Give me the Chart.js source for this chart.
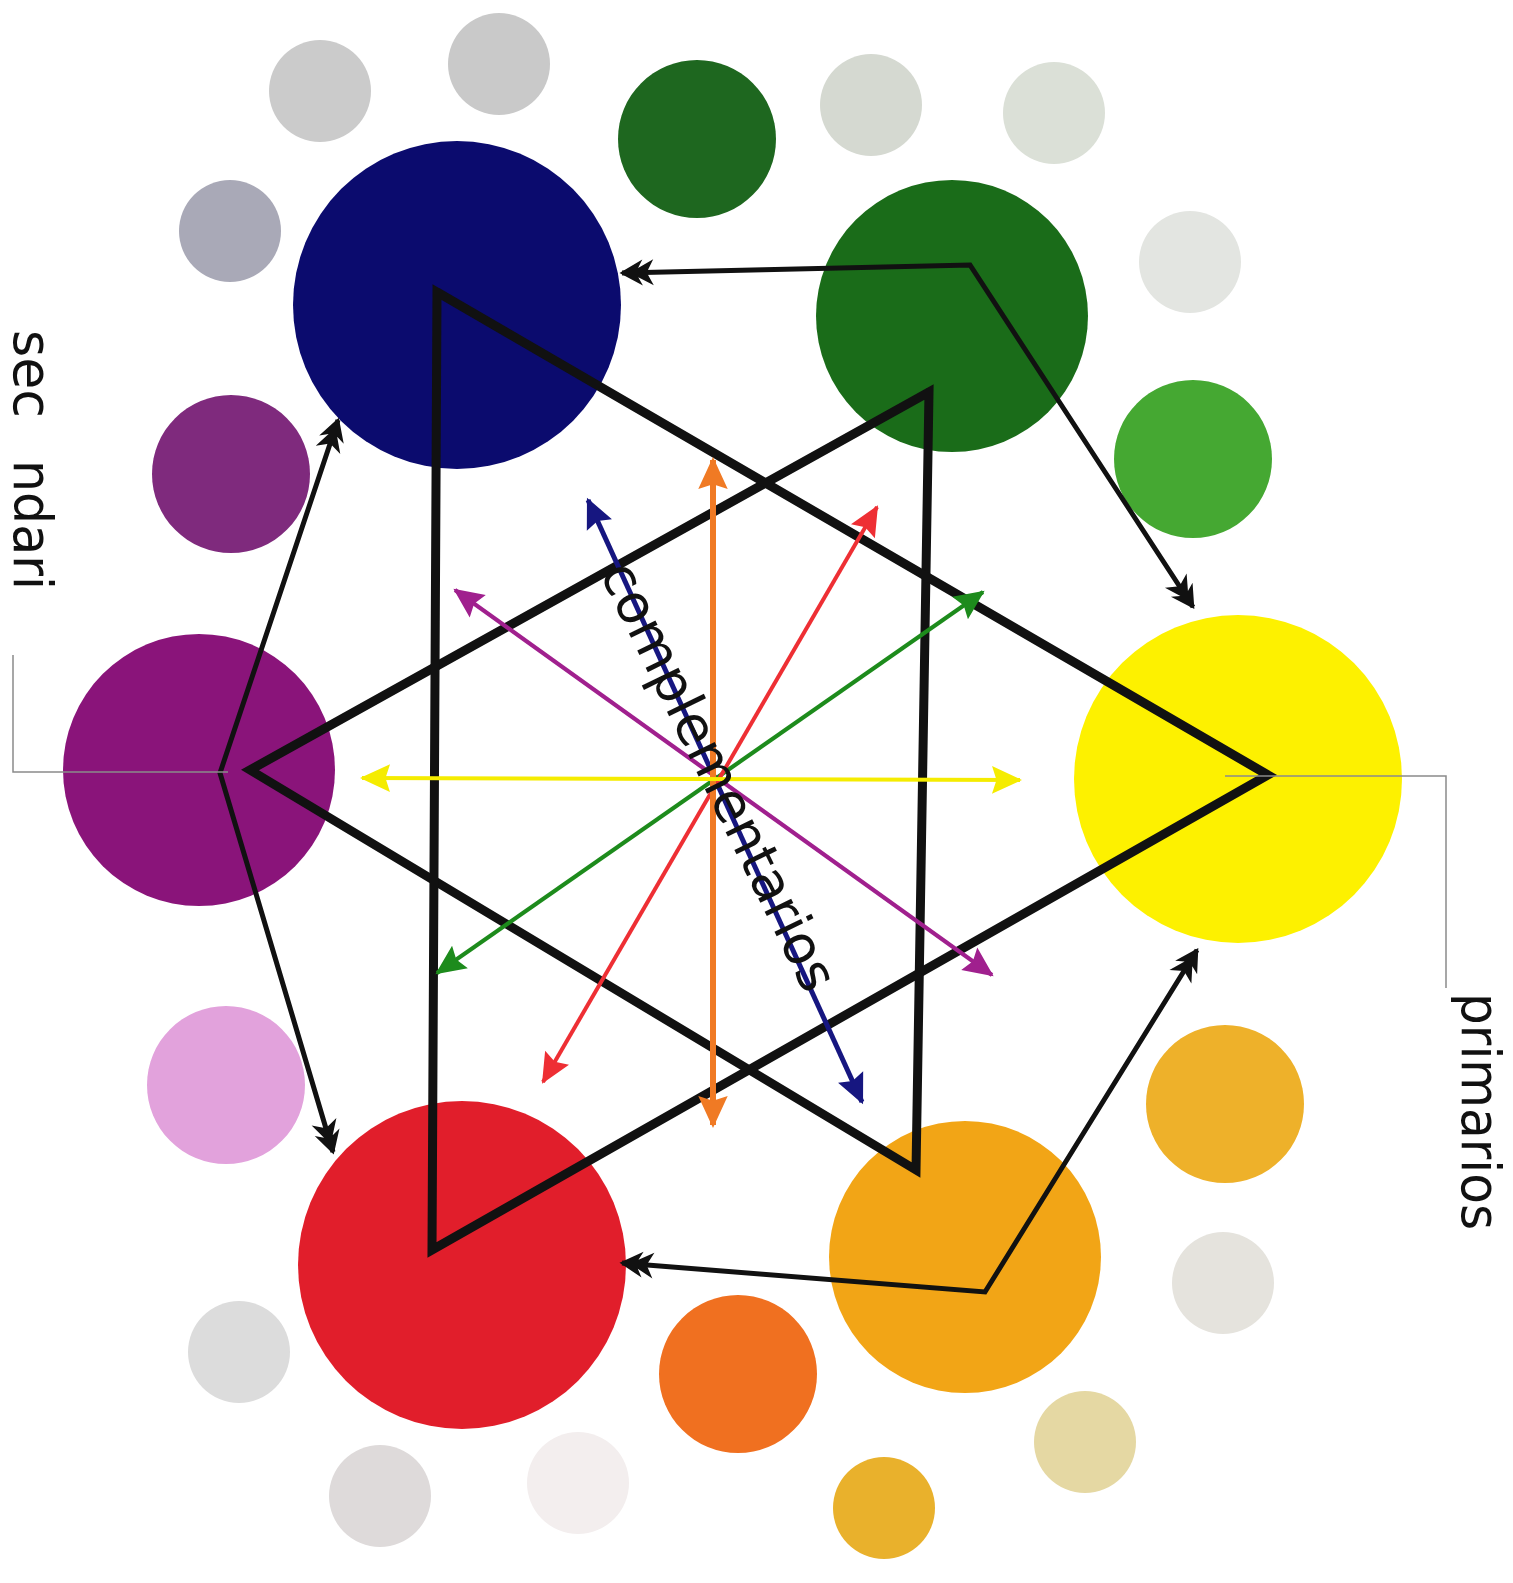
<!DOCTYPE html>
<html>
<head>
<meta charset="utf-8">
<script src="https://cdn.jsdelivr.net/npm/chart.js@4/dist/chart.umd.min.js"></script>
<style>
html, body { margin: 0; padding: 0; background: #fff; }
</style>
</head>
<body>
<canvas id="wheel" width="1513" height="1583"></canvas>
<script>
// circle centres (x, y)
var primX = [457, 1238, 462];
var primY = [305, 779, 1265];
var secX = [952, 965, 199];
var secY = [316, 1257, 770];
var terX = [697, 1193, 1225, 738, 226, 231];
var terY = [139, 459, 1104, 1374, 1085, 474];
var tintX = [320, 499, 230, 871, 1054, 1190, 1223, 1085, 884, 578, 380, 239];
var tintY = [91, 64, 231, 105, 113, 262, 1283, 1442, 1508, 1483, 1496, 1352];

// radius per ring
var primR = 164, secR = 136, terR = 79, tintR = 51;

var primColors = ['#0b0b6e', '#fdf100', '#e11e2b'];
var secColors = ['#1a6c19', '#f2a516', '#8a147a'];
var terColors = ['#1e671f', '#45a832', '#eeb12a', '#f07020', '#e2a2dc', '#7f2a7d'];
var tintColors = ['#cbcbcb', '#c9c9c9', '#a9a9b7', '#d5d9d1', '#dbe0d7', '#e3e5e1',
                  '#e5e3dd', '#e5d8a3', '#e9b12c', '#f3eeee', '#dedada', '#dcdcdc'];

// black triangles (closed, second point repeated so the join is mitered)
var triangleA = [[437, 292], [1268, 775], [432, 1250], [437, 292], [1268, 775]];
var triangleB = [[250, 770], [929, 392], [916, 1170], [250, 770], [929, 392]];

// black double arrows between the circles
var arrowTop = [[622, 273], [970, 265], [1193, 607]];
var arrowLeft = [[338, 420], [220, 773], [333, 1152]];
var arrowBottom = [[622, 1263], [985, 1292], [1197, 950]];

// complementary pairs
var compYellow = [[362, 778], [1020, 780]];
var compOrange = [[713, 460], [713, 1125]];
var compNavy = [[588, 500], [862, 1102]];
var compRed = [[877, 507], [543, 1082]];
var compGreen = [[983, 592], [437, 973]];
var compPurple = [[455, 590], [992, 975]];

// thin label brackets
var bracketLeft = [[13, 655], [13, 772], [228, 772]];
var bracketRight = [[1225, 776], [1446, 776], [1446, 988]];

// labels
var labelTexts = ['sec', 'ndari', 'primarios', 'complementarios'];
var labelAt = [[14, 330], [14, 460], [1462, 993], [715, 778]];
var labelAngle = [90, 90, 90, 64];
var labelAlign = ['left', 'left', 'left', 'center'];
var labelWidth = [88, 130, 237, 494];

function bubbles(xs, ys, r) {
  return xs.map(function (x, i) { return { x: x, y: ys[i], r: r }; });
}
function pts(a) {
  return a.map(function (p) { return { x: p[0], y: p[1] }; });
}
function lineSet(a, color, width, order, head, barbs) {
  return {
    type: 'line', data: pts(a), borderColor: color, backgroundColor: color,
    borderWidth: width, pointRadius: 0, fill: false, tension: 0,
    borderJoinStyle: 'miter', borderCapStyle: 'butt', order: order,
    clip: false, arrowSize: head || 0, arrowBarbs: barbs || 1
  };
}

var arrowHeads = {
  id: 'arrowHeads',
  afterDatasetDraw: function (chart, args) {
    var ds = chart.data.datasets[args.index];
    if (!ds.arrowSize) return;
    var els = args.meta.data, n = els.length;
    drawHead(chart.ctx, els[1], els[0], ds);
    drawHead(chart.ctx, els[n - 2], els[n - 1], ds);
  }
};
function drawHead(ctx, from, tip, ds) {
  var a = Math.atan2(tip.y - from.y, tip.x - from.x);
  var L = ds.arrowSize;
  ctx.save();
  ctx.translate(tip.x, tip.y);
  ctx.rotate(a);
  ctx.translate(ds.borderWidth * 0.5, 0);
  ctx.beginPath();
  if (ds.arrowBarbs === 2) {
    // double-barbed head
    var W = L * 0.38;
    ctx.moveTo(0, 0);
    ctx.lineTo(-L * 0.68, -W);
    ctx.lineTo(-L * 0.55, -W * 0.35);
    ctx.lineTo(-L, -W);
    ctx.lineTo(-L * 0.8, 0);
    ctx.lineTo(-L, W);
    ctx.lineTo(-L * 0.55, W * 0.35);
    ctx.lineTo(-L * 0.68, W);
  } else {
    var W1 = L * 0.46;
    ctx.moveTo(0, 0);
    ctx.lineTo(-L, -W1);
    ctx.lineTo(-L * 0.85, 0);
    ctx.lineTo(-L, W1);
  }
  ctx.closePath();
  ctx.fillStyle = ds.borderColor;
  ctx.fill();
  ctx.restore();
}

var textLabels = {
  id: 'textLabels',
  afterDraw: function (chart) {
    var ctx = chart.ctx, sx = chart.scales.x, sy = chart.scales.y;
    ctx.save();
    ctx.fillStyle = '#111';
    ctx.font = '54px "DejaVu Sans"';
    labelTexts.forEach(function (t, i) {
      ctx.save();
      ctx.translate(sx.getPixelForValue(labelAt[i][0]), sy.getPixelForValue(labelAt[i][1]));
      ctx.rotate(labelAngle[i] * Math.PI / 180);
      ctx.textAlign = labelAlign[i];
      ctx.textBaseline = labelAlign[i] === 'center' ? 'middle' : 'alphabetic';
      ctx.fillText(t, 0, 0, labelWidth[i]);
      ctx.restore();
    });
    ctx.restore();
  }
};

new Chart(document.getElementById('wheel'), {
  type: 'bubble',
  data: {
    datasets: [
      lineSet(bracketLeft, '#8a8a8a', 1.5, 0),
      lineSet(bracketRight, '#8a8a8a', 1.5, 0),
      lineSet(compYellow, '#f5ec00', 4, 1, 30),
      lineSet(compOrange, '#f07a24', 6, 1, 32),
      lineSet(compRed, '#ee2f34', 4, 1, 30),
      lineSet(compGreen, '#1d8b1c', 4, 1, 30),
      lineSet(compPurple, '#a0208e', 4, 1, 30),
      lineSet(compNavy, '#161680', 5, 1, 30),
      lineSet(arrowTop, '#111', 5, 2, 34, 2),
      lineSet(arrowLeft, '#111', 5, 2, 34, 2),
      lineSet(arrowBottom, '#111', 5, 2, 34, 2),
      lineSet(triangleA, '#111', 9, 3),
      lineSet(triangleB, '#111', 9, 3),
      { data: bubbles(tintX, tintY, tintR), backgroundColor: tintColors, borderWidth: 0, order: 4, clip: false },
      { data: bubbles(terX, terY, terR), backgroundColor: terColors, borderWidth: 0, order: 4, clip: false },
      { data: bubbles(secX, secY, secR), backgroundColor: secColors, borderWidth: 0, order: 4, clip: false },
      { data: bubbles(primX, primY, primR), backgroundColor: primColors, borderWidth: 0, order: 4, clip: false }
    ]
  },
  options: {
    responsive: false,
    animation: false,
    devicePixelRatio: 1,
    events: [],
    layout: { padding: 0, autoPadding: false },
    plugins: { legend: { display: false }, tooltip: { enabled: false } },
    scales: {
      x: { type: 'linear', min: 0, max: 1513, display: false },
      y: { type: 'linear', min: 0, max: 1583, reverse: true, display: false }
    }
  },
  plugins: [arrowHeads, textLabels]
});
</script>
</body>
</html>
